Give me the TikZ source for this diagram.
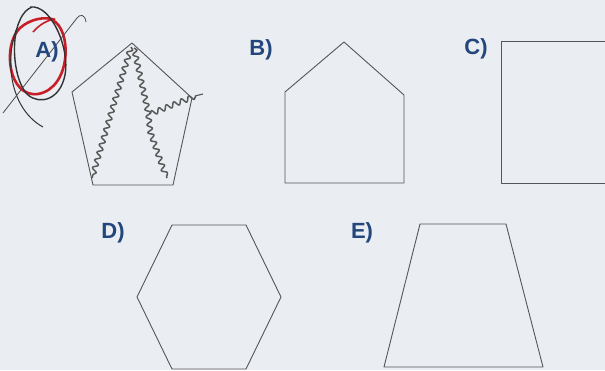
\documentclass[tikz,border=0pt]{standalone}
\usepackage{fontspec}
\setmainfont{Liberation Sans}
\usetikzlibrary{decorations.pathmorphing}
\definecolor{paper}{RGB}{234,237,241}
\definecolor{lab}{RGB}{35,70,125}
\definecolor{edge}{RGB}{85,85,90}
\definecolor{pen}{RGB}{200,30,40}
\tikzset{
  shapeline/.style={draw=edge, line width=0.9pt, line join=round},
  optlabel/.style={text=lab, font=\bfseries\fontsize{22}{22}\selectfont, anchor=center},
  crack/.style={draw=black!65, line width=1.5pt, line join=round, decorate,
    decoration={snake, amplitude=2.6pt, segment length=8pt}},
}
\begin{document}
\begin{tikzpicture}[x=1pt,y=-1pt]
\fill[paper] (0,0) rectangle (605,370);
\useasboundingbox (0,0) rectangle (605,370);

% A) pentagon
\draw[shapeline] (132,43) -- (192,98) -- (173,185) -- (93,185) -- (72,92) -- cycle;
% cracks
\draw[crack] (131,47) -- (112,110) -- (92,178);
\draw[crack] (134,48) -- (148,112) -- (150,130) -- (167,178);
\draw[crack] (150,114) -- (175,104) -- (196,96);
\draw[black!65, line width=1.2pt] (195,96) -- (203,94);
% scribbles round A
\draw[pen, line width=2.6pt] (52,20) .. controls (72,28) and (72,88) .. (38,94)
  .. controls (8,98) and (2,45) .. (20,28) .. controls (30,19) and (45,16) .. (55,20);
\draw[pen, line width=1.6pt] (33,32) .. controls (40,24) and (48,20) .. (55,19);
\draw[black!80, line width=1.4pt] (30,7) .. controls (52,4) and (70,50) .. (65,75)
  .. controls (60,100) and (40,105) .. (28,95) .. controls (14,82) and (10,40) .. (20,20)
  .. controls (23,13) and (27,9) .. (32,7);
\draw[black!80, line width=1pt] (16,30) .. controls (4,65) and (12,110) .. (43,127);
\draw[black!70, line width=0.8pt] (3,113) -- (77,18) .. controls (80,14) and (85,14) .. (86,22);
\node[optlabel] (la) at (47,52) {A)};

% B) house
\draw[shapeline] (344,42) -- (404,95) -- (404,183) -- (285,183) -- (285,92) -- cycle;
\node[optlabel] (lb) at (261,50) {B)};

% C) square
\draw[shapeline] (606,41) -- (501,41) -- (501,183) -- (606,183);
\node[optlabel] (lc) at (476,49) {C)};

% D) hexagon
\draw[shapeline] (172,225) -- (246,225) -- (281,297) -- (246,369) -- (172,369) -- (137,297) -- cycle;
\node[optlabel] (ld) at (113,233) {D)};

% E) trapezoid
\draw[shapeline] (420,224) -- (506,224) -- (543,367) -- (384,367) -- cycle;
\node[optlabel] (le) at (362,233) {E)};
\end{tikzpicture}
\end{document}
